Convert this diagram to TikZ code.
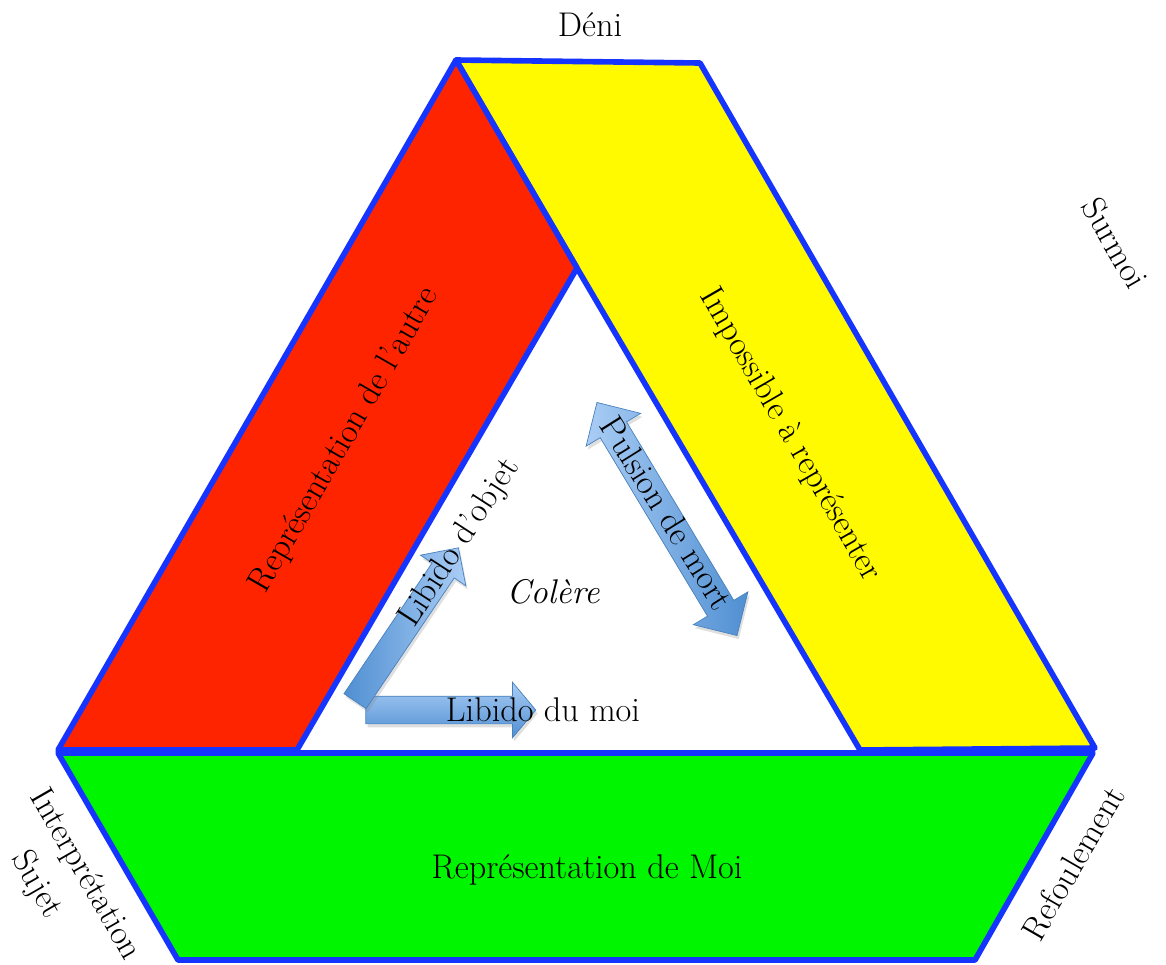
\documentclass[tikz,border=0pt]{standalone}
\usepackage{tikz}
\usetikzlibrary{shapes.arrows, shadows, positioning}
\definecolor{bandblue}{RGB}{22, 52, 255}
\definecolor{bandred}{RGB}{255, 36, 0}
\definecolor{bandyellow}{RGB}{255, 250, 0}
\definecolor{bandgreen}{RGB}{0, 245, 0}
\definecolor{arrowlight}{RGB}{170, 205, 245}
\definecolor{arrowdark}{RGB}{80, 143, 210}

\begin{document}
\begin{tikzpicture}[x=0.02cm, y=-0.02cm, every node/.style={font=\fontsize{19.5}{23}\selectfont},
    band/.style={draw=bandblue, line width=3.2pt, line join=round},
    fatarrow/.style={draw=arrowdark!90!black, thin, inner xsep=0pt, single arrow head indent=0pt,
        drop shadow={opacity=0.25, shadow xshift=1pt, shadow yshift=-2pt}}]
                \useasboundingbox (0,0) rectangle (1166,964);
                % corners of the impossible triangle
                \coordinate (apex) at (456,60);
                \coordinate (ytr) at (700,63);
                \coordinate (yout) at (1095,748);
                \coordinate (inTop) at (577,268);
                \coordinate (inL) at (297,750);
                \coordinate (inR) at (860,750);
                \coordinate (rbl) at (58,750);
                \coordinate (gtl) at (58,753);
                \coordinate (gtr) at (1093,753);
                \coordinate (gbr) at (975,960);
                \coordinate (gbl) at (178,960);
                
                \draw[band, fill=bandyellow] (apex) -- (ytr) -- (yout) -- (inR) -- (inTop) -- cycle;
                \draw[band, fill=bandred] (apex) -- (inTop) -- (inL) -- (rbl) -- cycle;
                \draw[band, fill=bandgreen] (gtl) -- (gtr) -- (gbr) -- (gbl) -- cycle;
                
                % fat arrows
                \node[fatarrow, single arrow, top color=arrowlight, bottom color=arrowdark, minimum height=3.4cm, inner ysep=0.27cm, single arrow head extend=0.28cm, single arrow tip angle=100] (moiArrow) at (445,710) {};
                \node[fatarrow, single arrow, left color=arrowdark, right color=arrowlight, minimum height=3.7cm, inner ysep=0.26cm, single arrow head extend=0.28cm, rotate=56] (objArrow) at (403,630) {};
                \node[fatarrow, double arrow, left color=arrowlight, right color=arrowdark, minimum height=5.44cm, inner ysep=0.3cm, double arrow head extend=0.33cm, rotate=-59] (mortArrow) at (667,519) {};
                
                \node (deni) at (590,25) {Déni};
                \node[rotate=-60] (surmoi) at (1115,243) {Surmoi};
                \node[rotate=-60] (impossible) at (790,435) {Impossible à représenter};
                \node[rotate=60] (autre) at (345,440) {Représentation de l'autre};
                \node[rotate=57] (objet) at (460,543) {Libido d'objet};
                \node (colere) at (553,592) {\itshape Colère};
                \node (moiLib) at (543,710) {Libido du moi};
                \node[rotate=-58] (pulsion) at (667,513) {Pulsion de mort};
                \node (moi) at (587,870) {Représentation de Moi};
                \node[rotate=-60] (interp) at (85,875) {Interprétation};
                \node[rotate=-60] (sujet) at (36,885) {Sujet};
                \node[rotate=60] (refoul) at (1073,863) {Refoulement};
            \end{tikzpicture}
\end{document}
